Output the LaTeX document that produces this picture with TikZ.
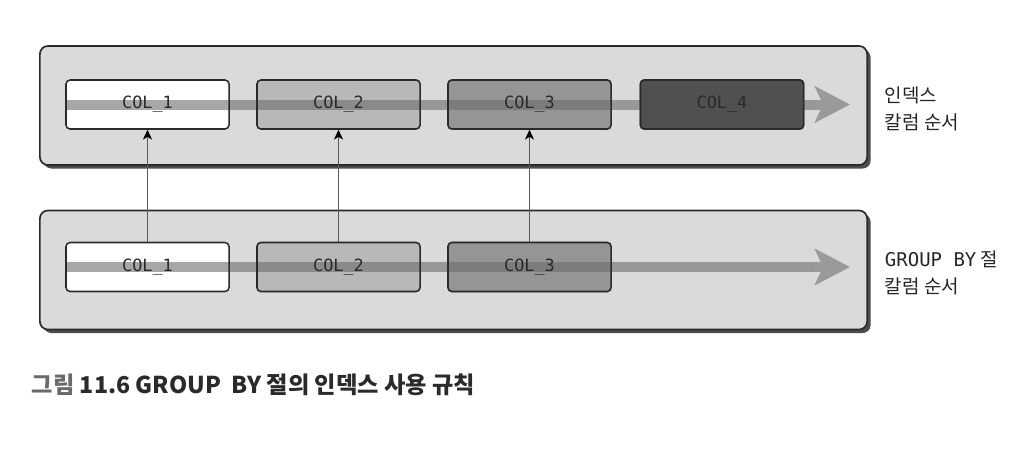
\documentclass[tikz,border=0pt]{standalone}
\usepackage{fontspec}
\usetikzlibrary{arrows.meta,shadows,backgrounds}
\setmainfont{Noto Sans CJK KR}
\newfontfamily\colfont{DejaVu Sans Mono}
\definecolor{panelgray}{HTML}{DADADA}
\definecolor{lightcol}{HTML}{B8B8B8}
\definecolor{midcol}{HTML}{959595}
\definecolor{darkcol}{HTML}{505050}
\definecolor{inkgray}{HTML}{2A2A2A}
\definecolor{bandgray}{HTML}{6B6B6B}
\definecolor{tipgray}{HTML}{9A9A9A}
\definecolor{captiongray}{HTML}{6A6A6A}

\begin{document}
\begin{tikzpicture}[x=0.025cm,y=-0.025cm,
    panel/.style={draw=inkgray,line width=1.2pt,fill=panelgray,rounded corners=0.2cm,
        minimum width=20.675cm,minimum height=2.975cm,
        drop shadow={shadow xshift=2.5pt,shadow yshift=-2.5pt,opacity=.7,fill=black}},
    colbox/.style={draw=inkgray,line width=1.1pt,rounded corners=0.1cm,
        minimum width=4.075cm,minimum height=1.225cm,inner sep=0pt,
        font=\colfont\fontsize{12}{14}\selectfont,text=inkgray},
    colfill/.style={rounded corners=0.1cm},
    band/.style={draw=bandgray,opacity=.59,line width=0.25cm},
    bandtip/.style={draw=tipgray,line width=0.25cm,
        -{Stealth[length=0.875cm,width=0.9cm,inset=0.2cm]}},
    link/.style={draw=black!65,line width=0.7pt,
        -{Stealth[length=7pt,width=6.5pt,inset=2pt,black]}},
    side/.style={anchor=west,align=left,text=black!85,font=\fontsize{13.5}{19}\selectfont}]
        \useasboundingbox (0,0) rectangle (1026,454);
        % index column order
        \node[colbox] (i1) at (147.5,104.5) {COL\_1};
        \node[colbox] (i2) at (338.5,104.5) {COL\_2};
        \node[colbox] (i3) at (529.5,104.5) {COL\_3};
        \node[colbox] (i4) at (722,104.5) {COL\_4};
        \coordinate (ineck) at (815,104.5);
        \coordinate (iend) at (850,104.5);
        % group by column order
        \node[colbox] (g1) at (147.5,267) {COL\_1};
        \node[colbox] (g2) at (338.5,267) {COL\_2};
        \node[colbox] (g3) at (529.5,267) {COL\_3};
        \coordinate (gneck) at (815,267);
        \coordinate (gend) at (850,267);
        % matching columns
        \draw[link] (g1.north) -- (i1.south);
        \draw[link] (g2.north) -- (i2.south);
        \draw[link] (g3.north) -- (i3.south);
        % labels
        \node[side] (idxlabel) at (880,109) {인덱스\\칼럼 순서};
        \node[side] (grplabel) at (880,273) {{\colfont GROUP BY} 절\\칼럼 순서};
        \node[anchor=west,text=inkgray,font=\bfseries\fontsize{16.5}{18}\selectfont] (caption) at (27,385)
            {{\color{captiongray}그림} 11.6 GROUP\ \ BY 절의 인덱스 사용 규칙};
        \begin{scope}[on background layer]
        \node[panel] (idx) at (453.5,105.5) {};
        \node[panel] (grp) at (453.5,270) {};
        \fill[colfill,white] (i1.south west) rectangle (i1.north east);
        \fill[colfill,lightcol] (i2.south west) rectangle (i2.north east);
        \fill[colfill,midcol] (i3.south west) rectangle (i3.north east);
        \fill[colfill,white] (g1.south west) rectangle (g1.north east);
        \fill[colfill,lightcol] (g2.south west) rectangle (g2.north east);
        \fill[colfill,midcol] (g3.south west) rectangle (g3.north east);
        \draw[band] (i1.west) -- (ineck);
        \draw[bandtip] (ineck) -- (iend);
        \draw[band] (g1.west) -- (gneck);
        \draw[bandtip] (gneck) -- (gend);
        \fill[colfill,darkcol] (i4.south west) rectangle (i4.north east);
        \end{scope}
\end{tikzpicture}
\end{document}
